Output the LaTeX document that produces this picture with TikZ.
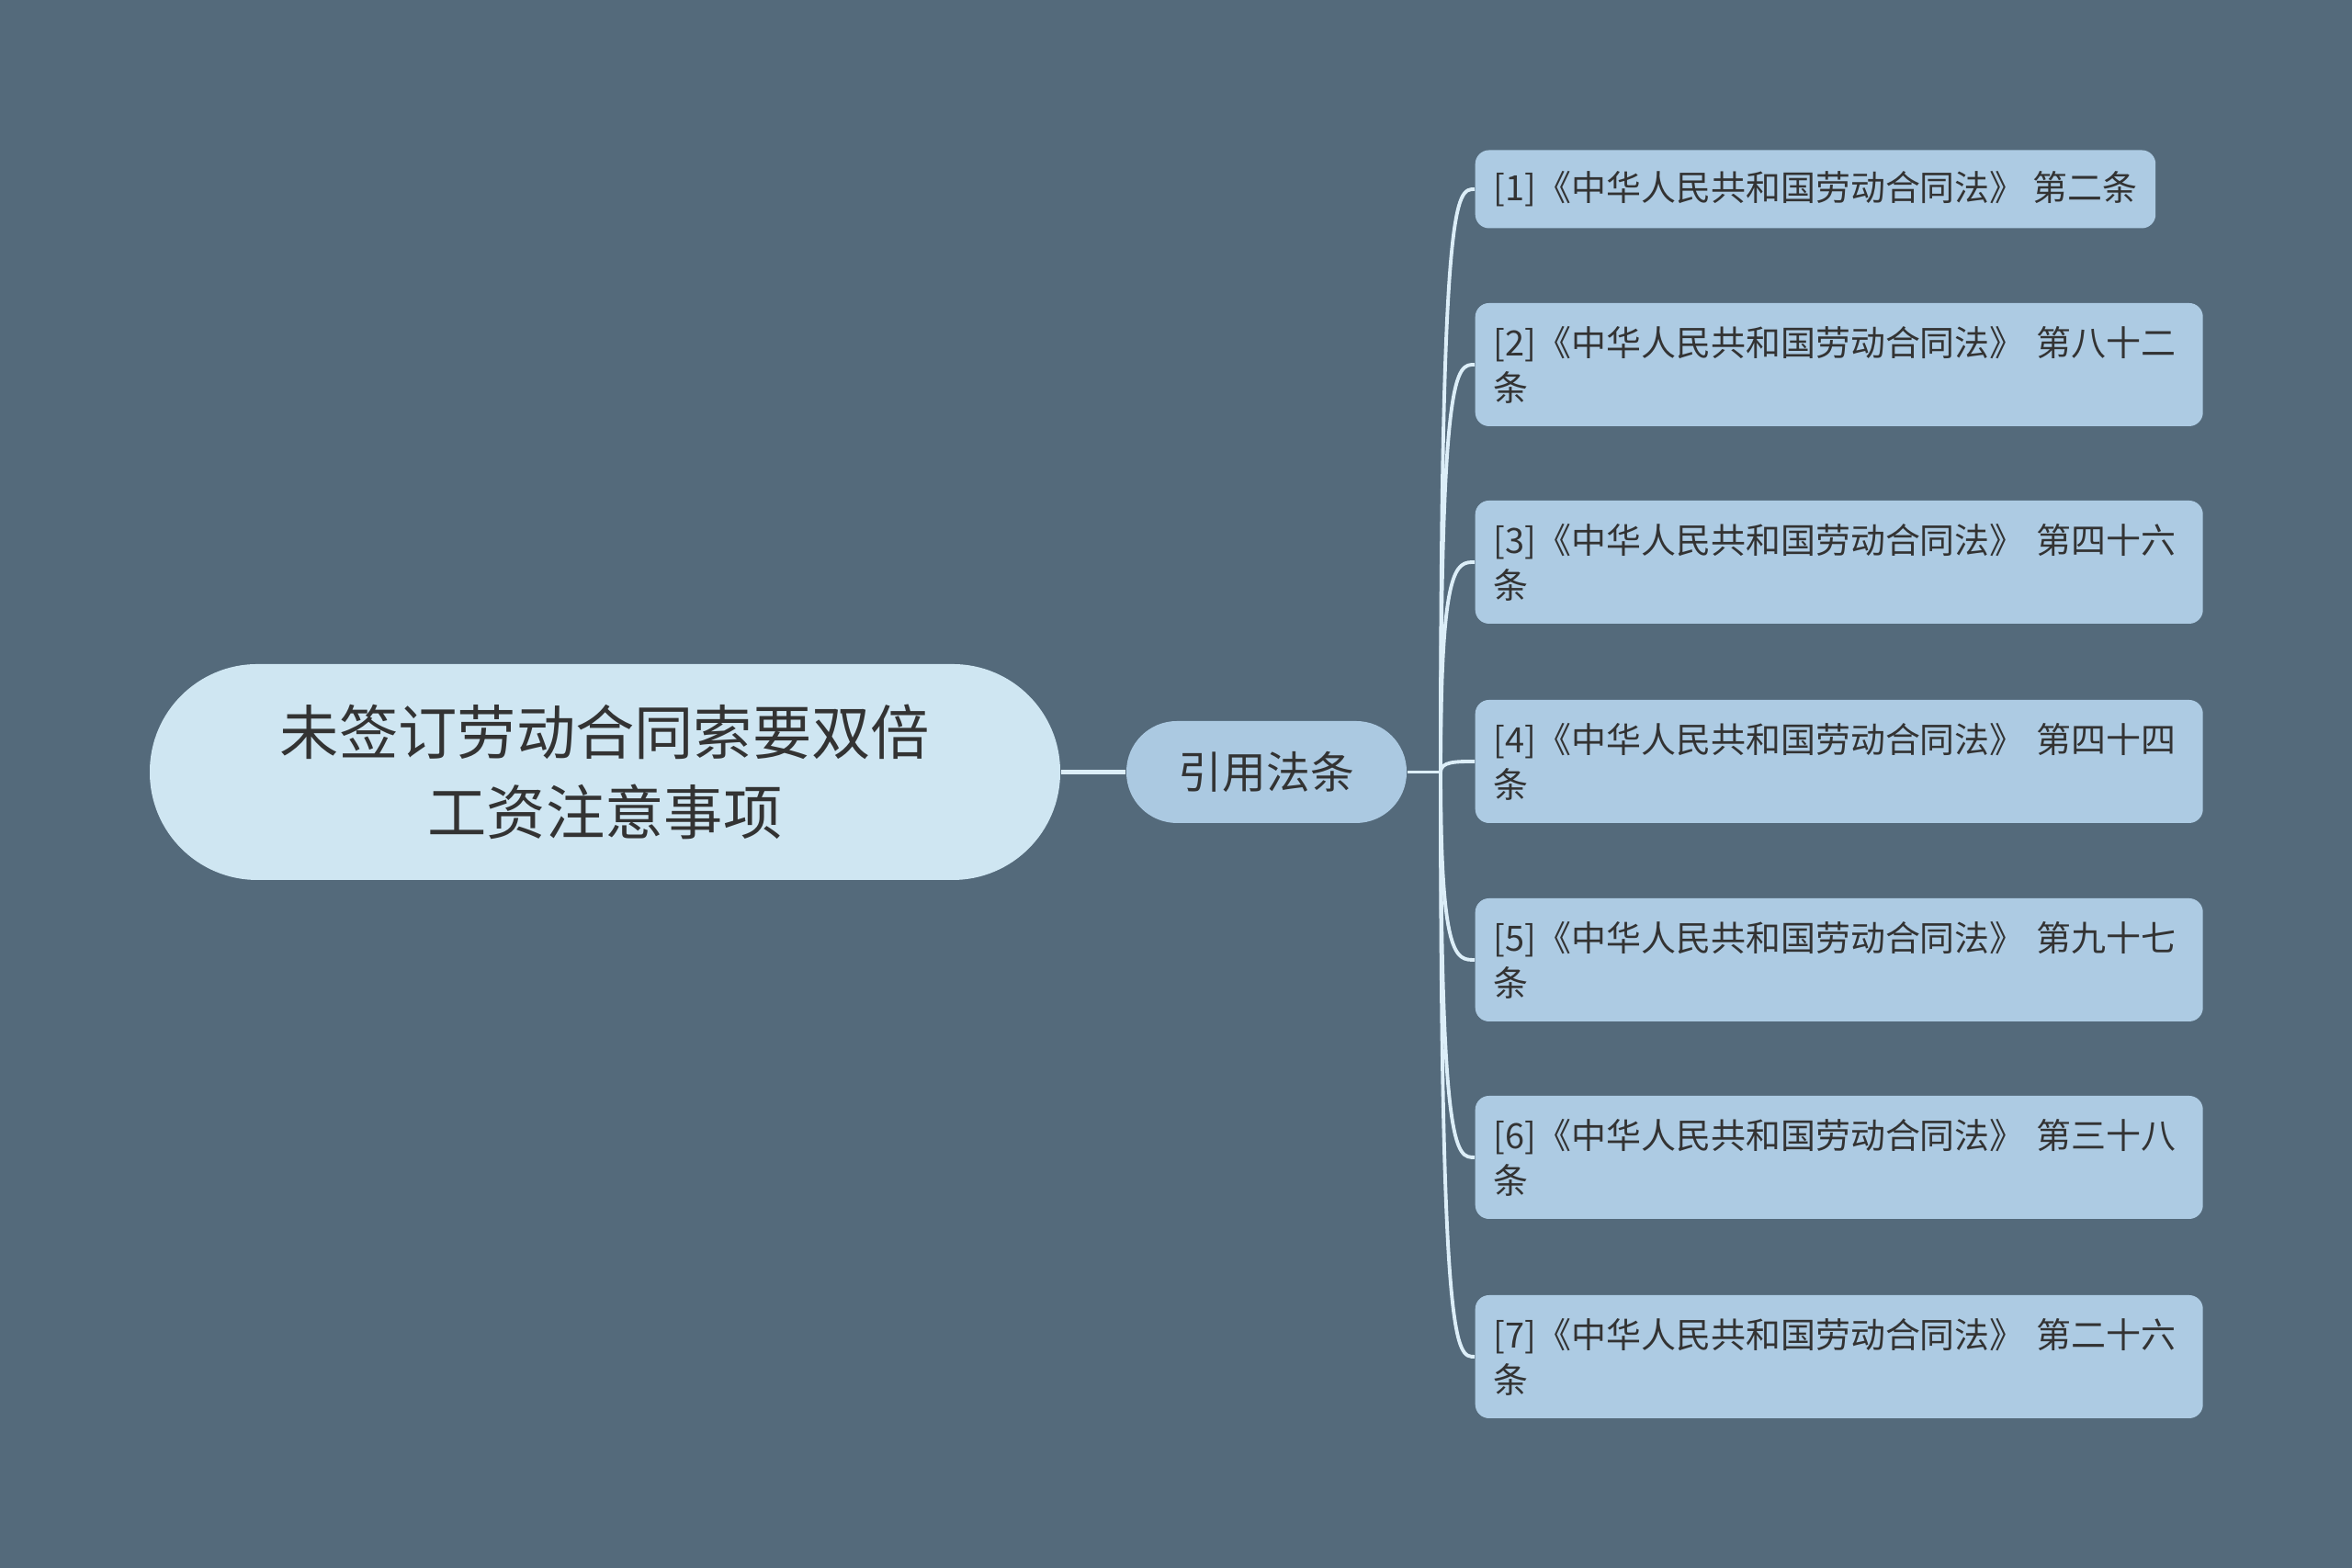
\documentclass[tikz,border=0pt]{standalone}
\usepackage{fontspec}
\setmainfont{Noto Sans CJK SC}
\definecolor{bg}{HTML}{546A7B}
\definecolor{rootfill}{HTML}{CFE6F2}
\definecolor{subfill}{HTML}{ABC9E1}
\definecolor{leaffill}{HTML}{ADCBE3}
\definecolor{linkcol}{HTML}{DCEEF8}
\definecolor{txt}{HTML}{333333}
\begin{document}
\begin{tikzpicture}[
    rootnode/.style={rectangle, rounded corners=1.17cm, fill=rootfill,
      minimum width=9.91cm, minimum height=2.35cm, align=center, text=txt,
      font=\fontsize{18.3pt}{24.6pt}\selectfont},
    subnode/.style={rectangle, rounded corners=0.55cm, fill=subfill,
      minimum width=3.05cm, minimum height=1.11cm, text=txt,
      font=\fontsize{13.6pt}{16pt}\selectfont},
    leafnode/.style={rectangle, rounded corners=0.15cm, fill=leaffill,
      anchor=west, inner xsep=0.2cm, inner ysep=0.1cm, align=left, text=txt,
      font=\fontsize{10.8pt}{13.9pt}\selectfont},
    twoline/.style={leafnode, text width=7.52cm, minimum height=1.34cm},
    link/.style={draw=linkcol, line width=1.1pt}
  ]
  \fill[bg] (0,0) rectangle (25.6,17.07);
  \useasboundingbox (0,0) rectangle (25.6,17.07);
  \path
    (6.585,8.665) node[rootnode] (root){未签订劳动合同索要双倍\\工资注意事项}
    (13.785,8.665) node[subnode] (laws){引用法条}
    (16.05,15.01) node[leafnode, minimum height=0.85cm] (l1){[1]《中华人民共和国劳动合同法》~第二条}
    (16.05,13.10) node[twoline] (l2){[2]《中华人民共和国劳动合同法》~第八十二\\条}
    (16.05,10.95) node[twoline] (l3){[3]《中华人民共和国劳动合同法》~第四十六\\条}
    (16.05,8.78) node[twoline] (l4){[4]《中华人民共和国劳动合同法》~第四十四\\条}
    (16.05,6.62) node[twoline] (l5){[5]《中华人民共和国劳动合同法》~第九十七\\条}
    (16.05,4.47) node[twoline] (l6){[6]《中华人民共和国劳动合同法》~第三十八\\条}
    (16.05,2.30) node[twoline] (l7){[7]《中华人民共和国劳动合同法》~第二十六\\条};
  \coordinate (fork) at (15.68,8.665);
  \begin{scope}[link]
    \draw[line width=1.6pt] (root) to (laws);
    \draw (laws.east) to (fork);
    \draw (fork) .. controls (fork |- l1.west) and ([xshift=-2mm]l1.west) .. (l1.west);
    \draw (fork) .. controls (fork |- l2.west) and ([xshift=-2mm]l2.west) .. (l2.west);
    \draw (fork) .. controls (fork |- l3.west) and ([xshift=-2mm]l3.west) .. (l3.west);
    \draw (fork) .. controls (fork |- l4.west) and ([xshift=-2mm]l4.west) .. (l4.west);
    \draw (fork) .. controls (fork |- l5.west) and ([xshift=-2mm]l5.west) .. (l5.west);
    \draw (fork) .. controls (fork |- l6.west) and ([xshift=-2mm]l6.west) .. (l6.west);
    \draw (fork) .. controls (fork |- l7.west) and ([xshift=-2mm]l7.west) .. (l7.west);
  \end{scope}
\end{tikzpicture}
\end{document}
